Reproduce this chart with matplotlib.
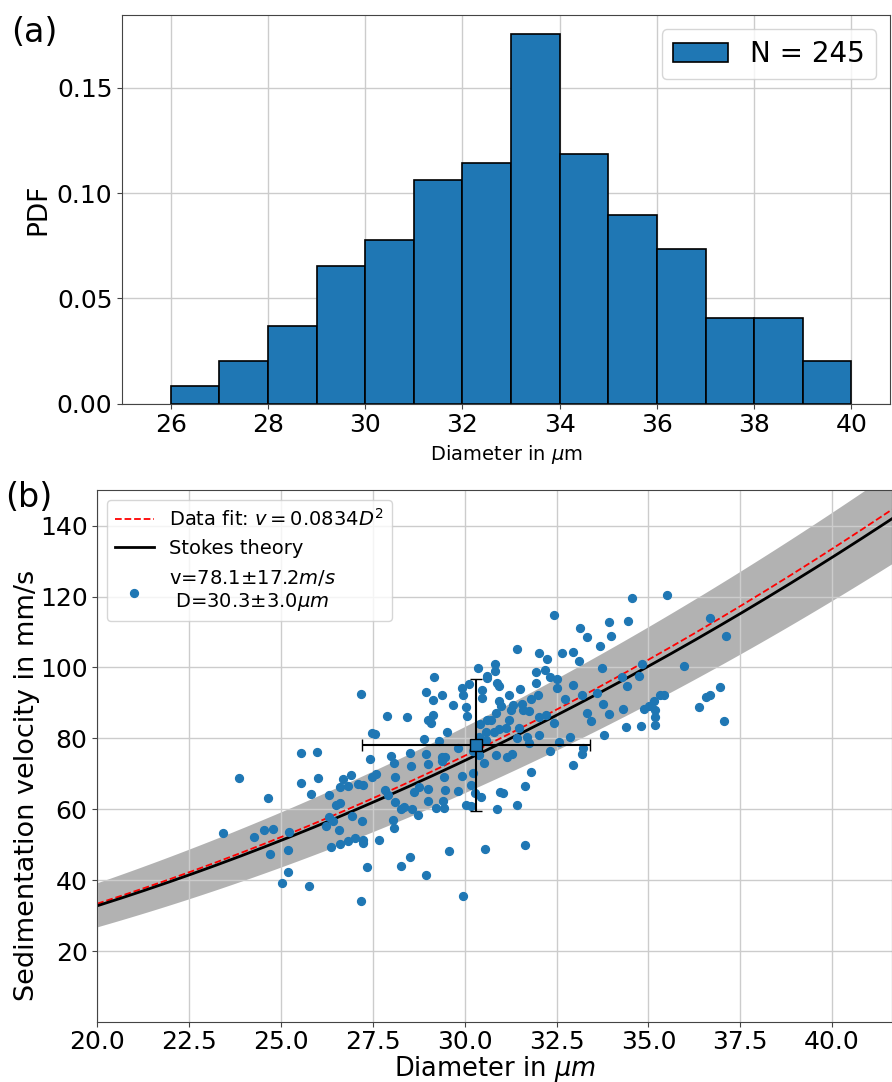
import matplotlib
matplotlib.use('Agg')
import matplotlib.pyplot as plt
import numpy as np

# Histogram of diameters, panel (a)
bin_edges = [26, 27, 28, 29, 30, 31, 32, 33, 34, 35, 36, 37, 38, 39, 40]
pdf = [0.0082, 0.0204, 0.0367, 0.0653, 0.0776, 0.1061, 0.1143, 0.1755,
       0.1184, 0.0898, 0.0735, 0.0408, 0.0408, 0.0204]

# Measured particles, panel (b): diameter (um) and velocity (mm/s)
diam = [23.86, 23.41, 24.66, 24.28, 24.54, 24.79, 24.70, 25.21, 25.19, 25.19,
        25.03, 25.75, 25.55, 26.01, 25.83, 26.31, 26.70, 26.91, 26.62, 26.82,
        27.10, 27.24, 26.51, 26.61, 26.30, 26.23, 26.41, 26.59, 26.93, 27.20,
        26.37, 26.61, 26.82, 27.02, 27.24, 27.22, 27.68, 27.33, 27.19, 27.49,
        27.60, 27.82, 27.91, 28.11, 28.11, 28.04, 28.09, 28.26, 28.35, 28.58,
        28.73, 28.62, 28.77, 29.00, 29.00, 29.22, 29.44, 29.40, 29.47, 29.44,
        29.82, 29.93, 30.04, 28.26, 28.51, 28.95, 29.57, 29.96,
        27.19, 29.17, 28.95, 29.13, 27.88, 28.44, 29.00, 29.13, 29.09, 27.49,
        27.57, 28.88, 25.55, 25.97, 27.42, 28.00, 28.08, 28.51, 28.95, 29.00,
        28.55, 30.07,
        30.11, 29.93, 29.38, 29.67, 29.95, 30.47, 30.47, 30.62, 30.89, 30.94,
        31.20, 31.51, 31.94, 31.80, 32.00, 32.51, 32.51, 30.04, 30.93, 30.98,
        30.86, 31.31, 31.27, 31.56, 31.60, 31.76, 32.03, 32.22, 31.20, 30.62,
        30.73, 30.42, 30.58, 30.80, 30.94, 30.38, 30.58, 31.13, 31.49, 31.69,
        31.42, 32.02, 31.76, 32.56, 29.53, 29.31, 29.82, 29.47, 29.37, 29.38,
        30.22, 30.40, 30.84, 31.16, 31.29, 32.33, 30.22, 31.80, 30.18, 30.96,
        31.03, 31.63, 30.45, 30.53, 32.72, 32.42, 30.29,
        32.43, 34.56, 35.52, 33.92, 34.45, 33.14, 33.32, 33.98, 33.67, 32.03,
        32.25, 32.65, 32.94, 33.12, 33.74, 31.94, 32.18, 32.31, 31.43, 30.82,
        30.82, 30.60, 30.35, 32.94, 33.18, 33.61, 33.76, 33.34, 33.43, 33.92,
        34.30, 34.27, 34.43, 34.74, 34.83, 35.96, 36.68, 37.12, 34.87, 35.01,
        35.16, 35.17, 35.19, 35.19, 35.32, 35.43, 34.81, 34.40, 33.78, 32.87,
        33.21, 33.20, 32.96, 36.37, 36.57, 36.68, 36.94, 37.06, 31.42, 30.87,
        31.63, 30.54, 30.18]
vel = [68.8, 53.4, 63.3, 52.2, 54.2, 54.4, 47.4, 53.6, 48.5, 42.3,
       39.2, 38.3, 67.3, 68.9, 64.4, 63.9, 68.6, 69.6, 66.2, 66.6,
       67.2, 66.7, 61.2, 61.8, 57.7, 55.2, 56.7, 54.2, 58.0, 56.8,
       49.3, 50.1, 50.9, 51.8, 51.4, 50.4, 51.4, 43.6, 34.2, 69.2,
       69.9, 65.4, 64.0, 69.1, 61.9, 57.1, 54.7, 60.1, 60.7, 60.1,
       58.3, 64.8, 66.2, 65.8, 62.4, 60.3, 60.3, 62.4, 65.3, 69.1,
       65.2, 69.5, 61.2, 44.1, 46.5, 41.5, 48.3, 35.5,
       92.5, 97.2, 93.2, 90.9, 86.4, 86.0, 85.2, 86.5, 84.2, 81.5,
       81.1, 79.8, 75.9, 76.1, 74.1, 74.9, 73.0, 75.9, 75.6, 72.8,
       72.1, 86.3,
       95.3, 94.2, 92.1, 89.5, 92.1, 93.6, 91.5, 97.0, 95.5, 94.7,
       92.1, 93.8, 95.5, 91.1, 92.3, 94.2, 96.6, 88.9, 90.4, 89.1,
       87.2, 89.5, 88.0, 89.8, 88.0, 87.6, 85.9, 86.5, 85.1, 85.1,
       85.1, 84.0, 81.9, 81.9, 82.5, 80.4, 79.5, 82.9, 82.9, 80.4,
       80.2, 80.8, 78.7, 79.1, 81.9, 79.3, 77.4, 74.8, 74.8, 73.5,
       76.3, 75.3, 75.2, 74.8, 75.5, 76.3, 70.1, 70.5, 66.9, 65.0,
       64.6, 66.5, 63.5, 73.0, 91.0, 84.2, 64.6,
       114.7, 119.6, 120.3, 112.9, 113.2, 111.0, 108.5, 109.0, 106.0, 104.2,
       102.4, 104.0, 104.3, 101.8, 99.8, 98.6, 99.2, 97.2, 105.1, 101.0,
       98.9, 97.5, 99.8, 95.0, 92.2, 92.8, 89.8, 87.2, 84.9, 87.0,
       88.3, 97.3, 94.8, 97.5, 101.1, 100.5, 113.8, 108.8, 88.3, 89.2,
       90.6, 88.0, 85.9, 83.8, 92.2, 92.1, 83.4, 83.1, 80.9, 80.4,
       77.4, 75.7, 72.4, 88.7, 91.7, 92.2, 94.5, 85.0, 61.2, 60.1,
       49.8, 48.7, 60.8]

# Mean point with spread
mean_d, err_d = 30.3, 3.1
mean_v, err_v = 78.1, 18.6

# Model coefficients: v = k * D^2
k_fit = 0.0834
k_stokes = 0.0819
d_spread = 1.9

spine_col = '#444444'

fig = plt.figure(figsize=(8.92, 10.82), dpi=100)

# ---- (a) histogram ----
ax1 = fig.add_axes([0.137, 0.627, 0.861, 0.359])
ax1.bar(bin_edges[:-1], pdf, width=1.0, align='edge', color='#1f77b4',
        edgecolor='black', linewidth=1.2, label='N = 245')
ax1.set_axisbelow(True)
ax1.grid(color='#cccccc', linewidth=1)
ax1.set_xlim(25.0, 40.8)
ax1.set_ylim(0, 0.1845)
ax1.set_xticks([26, 28, 30, 32, 34, 36, 38, 40])
ax1.set_yticks([0.00, 0.05, 0.10, 0.15])
ax1.tick_params(labelsize=18, color=spine_col)
ax1.set_ylabel('PDF', fontsize=19)
ax1.set_xlabel(r'Diameter in $\mu$m', fontsize=14)
ax1.legend(loc='upper right', fontsize=20, handlelength=2.0)
for sp in ax1.spines.values():
    sp.set_color(spine_col)
fig.text(0.012, 0.985, '(a)', fontsize=24, va='top')

# ---- (b) velocity vs diameter ----
ax2 = fig.add_axes([0.109, 0.0555, 0.891, 0.4915])
d_line = np.linspace(20, 41.63, 300)
ax2.fill_between(d_line, k_stokes * (d_line - d_spread) ** 2,
                 k_stokes * (d_line + d_spread) ** 2,
                 color='gray', alpha=0.6, linewidth=0)
ax2.plot(d_line, k_fit * d_line ** 2, 'r--', linewidth=1.3,
         label=r'Data fit: $v=0.0834D^2$')
ax2.plot(d_line, k_stokes * d_line ** 2, color='black', linewidth=2,
         label='Stokes theory')
ax2.scatter(diam, vel, s=32, color='#1f77b4', zorder=3,
            label='v=78.1±17.2$m/s$\n D=30.3±3.0$\\mu m$')
ax2.errorbar(mean_d, mean_v, xerr=err_d, yerr=err_v, fmt='s', color='black',
             markerfacecolor='#1f77b4', markeredgecolor='black', markersize=9,
             capsize=4, elinewidth=1.5, zorder=4)
ax2.grid(color='#cccccc', linewidth=1)
ax2.set_xlim(20, 41.63)
ax2.set_ylim(0, 150)
ax2.set_xticks([20, 22.5, 25, 27.5, 30, 32.5, 35, 37.5, 40])
ax2.set_yticks([20, 40, 60, 80, 100, 120, 140])
ax2.tick_params(labelsize=18, color=spine_col)
ax2.tick_params(axis='x', pad=2)
ax2.set_xlabel(r'Diameter in $\mu m$', fontsize=18.5, labelpad=0)
ax2.set_ylabel('Sedimentation velocity in mm/s', fontsize=19.5)
ax2.yaxis.set_label_coords(-0.072, 0.445)
ax2.legend(loc='upper left', fontsize=14)
for sp in ax2.spines.values():
    sp.set_color(spine_col)
fig.text(0.006, 0.555, '(b)', fontsize=24, va='top')

fig.savefig('out.png', dpi=100)
